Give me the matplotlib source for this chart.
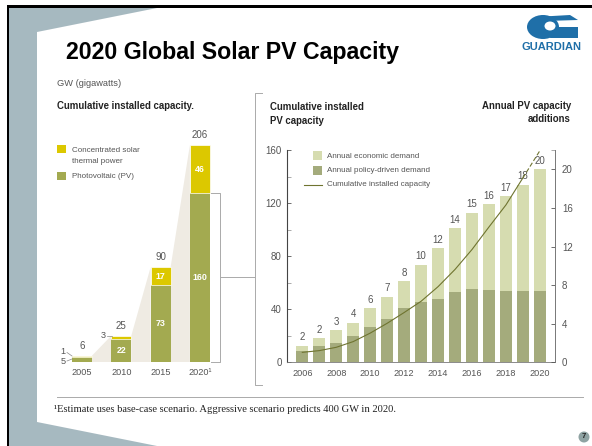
import matplotlib
matplotlib.use("Agg")
import matplotlib.pyplot as plt
from matplotlib.patches import Polygon, Rectangle, Circle, Ellipse

W, H = 592, 446

# Left chart data
left_years = ["2005", "2010", "2015", "2020"]
left_pv = [5, 22, 73, 160]
left_csp = [1, 3, 17, 46]
left_totals = [6, 25, 90, 206]

# Right chart data
right_years = list(range(2006, 2021))
annual_total = [1.7, 2.5, 3.3, 4.1, 5.6, 6.8, 8.4, 10.1, 11.8, 13.9, 15.5, 16.4, 17.2, 18.4, 20.0]
annual_policy = [1.2, 1.7, 2.0, 2.7, 3.7, 4.5, 5.6, 6.3, 6.6, 7.3, 7.6, 7.5, 7.4, 7.4, 7.4]
annual_labels = [2, 2, 3, 4, 6, 7, 8, 10, 12, 14, 15, 16, 17, 18, 20]
cumulative = [7.5, 8.8, 11.3, 15.6, 22, 29.4, 37.5, 46, 57, 70, 85, 102, 118.6, 139, 159.5]
left_ticks = [0, 40, 80, 120, 160]
right_ticks = [0, 4, 8, 12, 16, 20]

SLATE = "#a6b9c0"
GOLD = "#dcc800"
OLIVE = "#a3aa50"
PALE = "#d6dcb0"
SAGE = "#a4ab7c"
LINE = "#6f7430"
TXT = "#555555"
SHADE = "#efebe3"
BLUE = "#1f6fa8"
plt.rcParams["font.family"] = "Liberation Sans"

fig = plt.figure(figsize=(W / 100, H / 100), dpi=100, facecolor="white")
bg = fig.add_axes([0, 0, 1, 1])
bg.set_xlim(0, W)
bg.set_ylim(H, 0)
bg.axis("off")

bg.add_patch(Polygon([(8, 8), (157, 8), (37, 32), (37, 422), (157, 446), (8, 446)], fc=SLATE, ec="none"))
bg.add_patch(Rectangle((6.5, 5), W - 6.5, 3, fc="black", ec="none"))
bg.add_patch(Rectangle((6.5, 5), 2.5, H - 5, fc="black", ec="none"))

bg.text(66, 52, "2020 Global Solar PV Capacity", fontsize=16.7, fontweight="bold", color="black",
        va="center", ha="left")

# Logo
bg.add_patch(Ellipse((543, 27), 32, 24, fc=BLUE, ec="none"))
bg.add_patch(Polygon([(535, 17), (570, 15), (578, 20), (545, 21)], fc=BLUE, ec="none"))
bg.add_patch(Polygon([(552, 27), (578, 27), (578, 38), (550, 38)], fc=BLUE, ec="none"))
bg.add_patch(Ellipse((550, 26), 11, 9, fc="white", ec="none"))
bg.text(552, 47, "GUARDIAN", fontsize=8, fontweight="bold", color=BLUE, ha="center", va="center")

bg.text(57, 84, "GW (gigawatts)", fontsize=6.7, color=TXT, va="center")
HEAD = dict(fontsize=6.9, fontweight="bold", color="#222222", va="center")
bg.text(57, 106, "Cumulative installed capacity.", **HEAD)
bg.text(270, 107, "Cumulative installed", **HEAD)
bg.text(270, 121, "PV capacity", **HEAD)
bg.text(571, 106, "Annual PV capacity", ha="right", **HEAD)
bg.text(571, 119, "additions", ha="right", **HEAD)

# Connector bracket
bg.plot([211, 220, 220, 211], [193, 193, 362, 362], color="#aaaaaa", lw=0.7)
bg.plot([220, 255], [277, 277], color="#aaaaaa", lw=0.7)
bg.plot([262, 255, 255, 262], [93, 93, 385, 385], color="#aaaaaa", lw=0.7)

# Footnote
bg.plot([57, 583], [397, 397], color="#aaaaaa", lw=0.7)
bg.text(54, 410, "¹Estimate uses base-case scenario. Aggressive scenario predicts 400 GW in 2020.",
        fontsize=7.6, family="Liberation Serif", color="#222222", va="center")
bg.add_patch(Circle((584, 437), 5.5, fc="#8fa3a3", ec="none"))
bg.text(584, 437, "7", fontsize=5.5, fontweight="bold", color="#222222", ha="center", va="center")


def axes_px(x0, y_top, x1, y_bot):
    return fig.add_axes([x0 / W, 1 - y_bot / H, (x1 - x0) / W, (y_bot - y_top) / H], facecolor="none")


# Left chart: x unit = category index, 39.3 px apart, first centre at 82
ax1 = axes_px(60, 130, 220, 362)
px_per_gw = 217 / 206
ax1.set_ylim(0, 232 / px_per_gw)
ax1.set_xlim((60 - 82) / 39.3, (220 - 82) / 39.3)
ax1.axis("off")
bw = 20 / 39.3
xs = list(range(4))
for i in range(3):
    ax1.fill([xs[i] + bw / 2, xs[i + 1] - bw / 2, xs[i + 1] - bw / 2, xs[i] + bw / 2],
             [0, 0, left_totals[i + 1], left_totals[i]], color=SHADE, lw=0)
ax1.bar(xs, left_pv, bw, color=OLIVE)
ax1.bar(xs, left_csp, bw, bottom=left_pv, color=GOLD, edgecolor="white", linewidth=0.5)
for x, p, c, t, y in zip(xs, left_pv, left_csp, left_totals, left_years):
    ax1.annotate(str(t), (x, t), xytext=(0, 3.5), textcoords="offset points", ha="center", va="bottom",
                 fontsize=7, color=TXT, annotation_clip=False)
    if p > 10:
        ax1.text(x, p / 2, str(p), ha="center", va="center", fontsize=6.4, fontweight="bold", color="white")
    if c > 10:
        ax1.text(x, p + c / 2, str(c), ha="center", va="center", fontsize=6.4, fontweight="bold", color="white")
    ax1.annotate(y + ("¹" if y == "2020" else ""), (x, 0), xytext=(0, -7.5), textcoords="offset points", ha="center",
                 va="center", fontsize=6.6, color=TXT, annotation_clip=False)
SMALL = dict(fontsize=6.6, color=TXT, ha="center", va="center")
bg.text(63, 351.5, "1", **SMALL)
bg.text(63, 361.5, "5", **SMALL)
bg.plot([67, 72], [352.5, 356], color="#888888", lw=0.5)
bg.plot([67, 72], [361, 359], color="#888888", lw=0.5)
bg.text(103, 336, "3", **SMALL)
bg.plot([107, 112], [336, 336], color="#888888", lw=0.5)

# Left legend
LEG = dict(fontsize=5.8, color=TXT, va="center")
bg.add_patch(Rectangle((57, 145), 8.5, 8, fc=GOLD, ec="none"))
bg.text(71.5, 150.5, "Concentrated solar", **LEG)
bg.text(71.5, 161.5, "thermal power", **LEG)
bg.add_patch(Rectangle((57, 172), 8.5, 8, fc=OLIVE, ec="none"))
bg.text(71.5, 176, "Photovoltaic (PV)", **LEG)

# Right chart: annual bars use the right axis, the line uses the left axis
ax2 = axes_px(287.3, 150, 555, 362.3)
ax2.set_xlim(2006 + (287.3 - 302.3) / 16.97, 2006 + (555 - 302.3) / 16.97)
ax2.set_ylim(0, 160)
ax2.set_yticks(left_ticks)
ax2.set_yticks(list(range(0, 161, 20)), minor=True)
ax2.set_xticks(right_years[::2])
ax2.tick_params(axis="x", length=0, labelsize=6.6, labelcolor=TXT, pad=4.5)
ax2.tick_params(axis="y", which="major", direction="in", length=3, width=0.6, color="#555555",
                labelsize=7, labelcolor=TXT, pad=4)
ax2.tick_params(axis="y", which="minor", direction="in", length=3, width=0.5, color="#888888")
for s in ["top", "right"]:
    ax2.spines[s].set_visible(False)
ax2.spines["left"].set_linewidth(0.8)
ax2.spines["left"].set_color("#444444")
ax2.spines["bottom"].set_linewidth(0.6)
ax2.spines["bottom"].set_color("#777777")

ax3 = ax2.twinx()
ax3.set_ylim(0, 212.3 / 9.65)
ax3.set_yticks(right_ticks)
ax3.set_yticks([212.3 / 9.65], minor=True)
ax3.tick_params(axis="y", which="major", direction="in", length=3, width=0.6, color="#555555", labelsize=7,
                labelcolor=TXT, pad=5)
ax3.tick_params(axis="y", which="minor", direction="in", length=3, width=0.5, color="#888888", labelright=False)
for s in ["top", "left", "bottom"]:
    ax3.spines[s].set_visible(False)
ax3.spines["right"].set_linewidth(0.7)
ax3.spines["right"].set_color("#777777")
ax3.bar(right_years, annual_total, 12 / 16.97, color=PALE)
ax3.bar(right_years, annual_policy, 12 / 16.97, color=SAGE)
for x, t, l in zip(right_years, annual_total, annual_labels):
    ax3.annotate(str(l), (x, t), xytext=(0, 2.5), textcoords="offset points", ha="center", va="bottom",
                 fontsize=7, color=TXT, annotation_clip=False)

ax4 = ax2.twinx()
ax4.set_ylim(0, 160)
ax4.axis("off")
ax4.plot(right_years[:-1], cumulative[:-1], color=LINE, lw=0.8)
ax4.plot(right_years[-2:], cumulative[-2:], color=LINE, lw=0.8, ls=(0, (4, 2)))

# Right legend
bg.add_patch(Rectangle((313, 151), 9, 9, fc=PALE, ec="none"))
bg.text(327, 156.5, "Annual economic demand", **LEG)
bg.add_patch(Rectangle((313, 166), 9, 9, fc=SAGE, ec="none"))
bg.text(327, 171, "Annual policy-driven demand", **LEG)
bg.plot([304, 322], [185, 185], color=LINE, lw=0.8)
bg.text(327, 185, "Cumulative installed capacity", **LEG)
bg.set_zorder(5)
bg.patch.set_alpha(0)

fig.savefig("out.png", dpi=100)
